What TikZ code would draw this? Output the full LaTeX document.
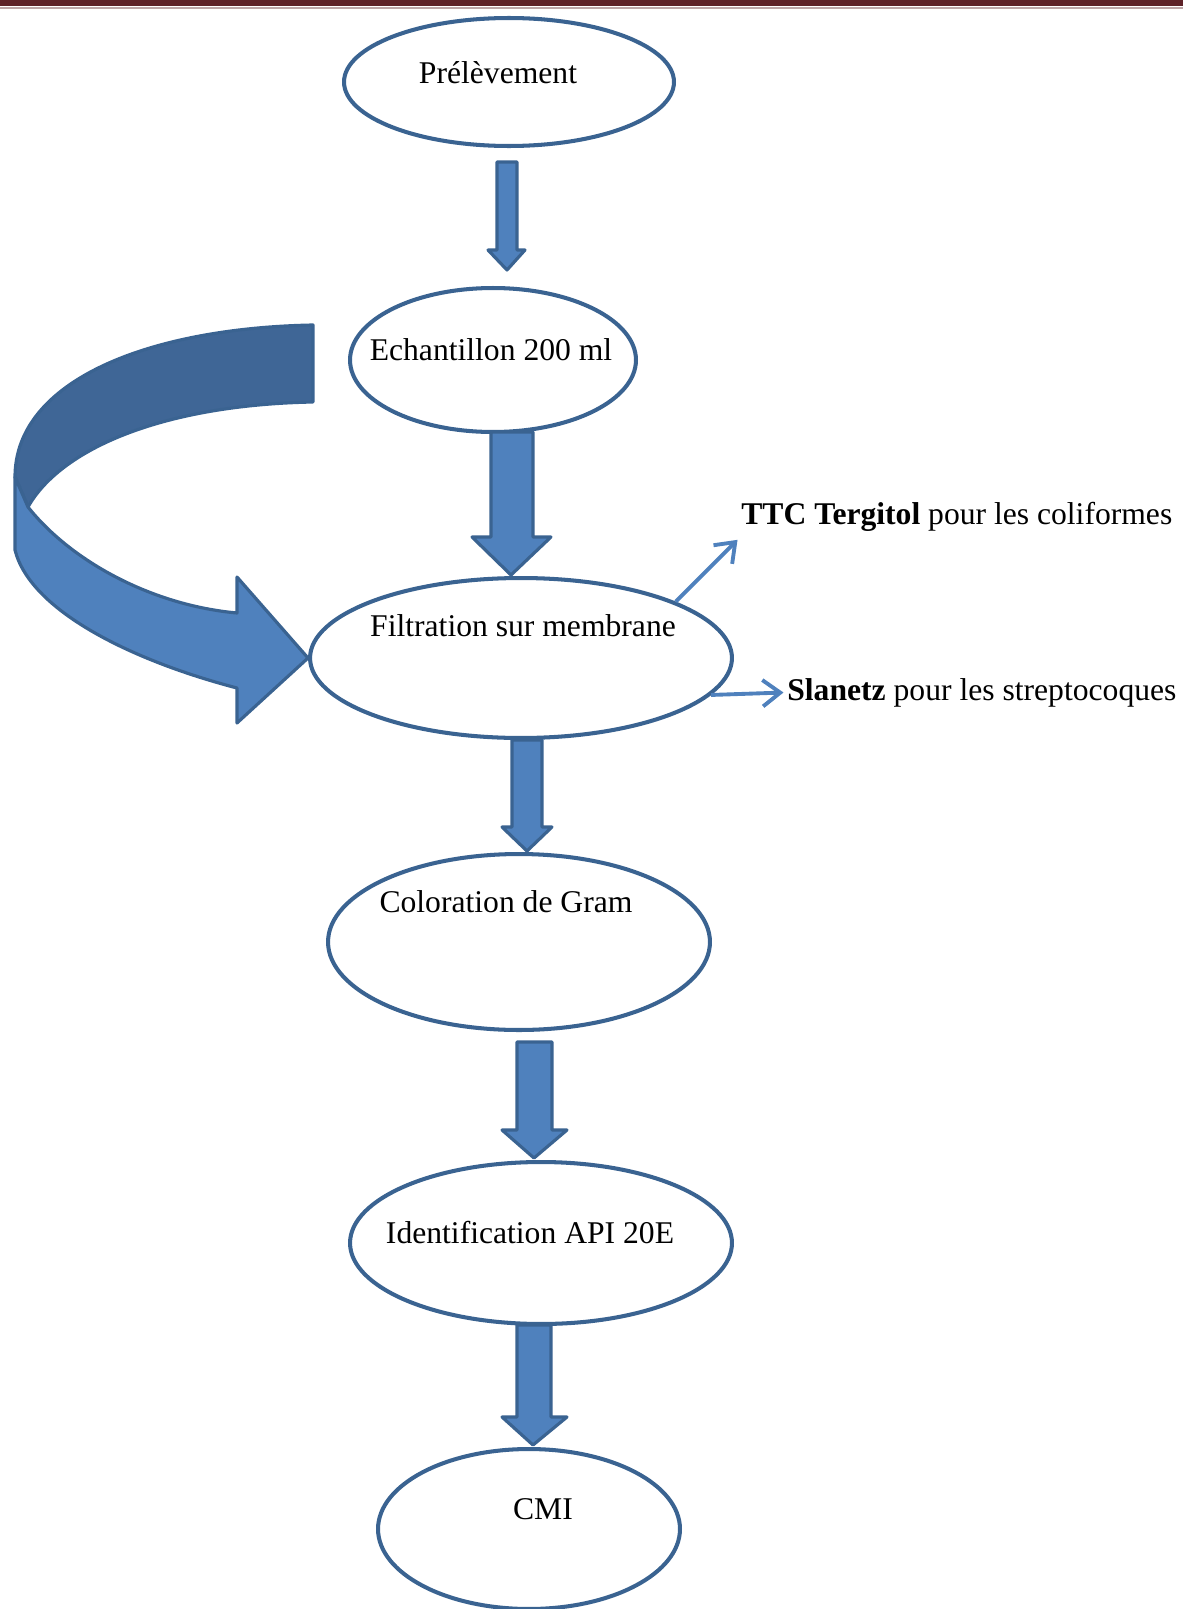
\documentclass[tikz,border=0pt]{standalone}
\usepackage{fontspec}
\setmainfont{Liberation Serif}
\usetikzlibrary{shapes.geometric,arrows.meta,calc}

\definecolor{barred}{HTML}{5E2228}
\definecolor{edgeblue}{HTML}{3A6391}
\definecolor{fillblue}{HTML}{4F81BD}
\definecolor{darkblue}{HTML}{3F6696}

\tikzset{
  stage/.style={ellipse, draw=edgeblue, line width=2.3pt, inner sep=0pt},
  lbl/.style={anchor=base, inner sep=0pt, font=\fontsize{18}{21}\selectfont},
  fat/.style={fill=fillblue, draw=edgeblue, line width=1.8pt, line join=round},
  thinarrow/.style={draw=fillblue, line width=2.2pt, shorten >=2pt,
    -{Straight Barb[length=10pt,width=15pt]}}
}

\begin{document}
\begin{tikzpicture}[x=0.02cm, y=-0.02cm]
  \useasboundingbox (0,0) rectangle (1183,1609);
  % page rule
  \fill[barred] (0,0) rectangle (1183,6);
  \draw[barred!40, line width=0.6pt] (0,8) -- (1183,8);

  % stages
  \node[stage, minimum width=6.6cm, minimum height=2.56cm] (prel) at (509,82) {};
  \node[stage, minimum width=5.72cm, minimum height=2.88cm] (ech) at (493,360) {};
  \node[stage, minimum width=8.44cm, minimum height=3.2cm] (filt) at (521,658) {};
  \node[stage, minimum width=7.64cm, minimum height=3.52cm] (col) at (519,942) {};
  \node[stage, minimum width=7.64cm, minimum height=3.24cm] (ident) at (541,1243) {};
  \node[stage, minimum width=6.04cm, minimum height=3.2cm] (cmi) at (529,1529) {};

  \node[lbl] (prel-t) at (498,83) {Prélèvement};
  \node[lbl] (ech-t) at (491,360) {Echantillon 200 ml};
  \node[lbl] (filt-t) at (523,636) {Filtration sur membrane};
  \node[lbl] (col-t) at (506,912) {Coloration de Gram};
  \node[lbl] (ident-t) at (530,1243) {Identification API 20E};
  \node[lbl] (cmi-t) at (543,1519) {CMI};

  \node[lbl, anchor=base west] (ttc) at (741,524) {\textbf{TTC Tergitol} pour les coliformes};
  \node[lbl, anchor=base west] (slanetz) at (787,700) {\textbf{Slanetz} pour les streptocoques};

  % block arrows
  \filldraw[fat] (497,162) -- (517,162) -- (517,250) -- (525,250) -- (507,270)
    -- (488,250) -- (497,250) -- cycle;
  \filldraw[fat] (491,432) -- (533,432) -- (533,537) -- (551,537) -- (511,575)
    -- (472,537) -- (491,537) -- cycle;
  \filldraw[fat] (512,740) -- (542,740) -- (542,827) -- (552,827) -- (527,851)
    -- (502,827) -- (512,827) -- cycle;
  \filldraw[fat] (517,1042) -- (552,1042) -- (552,1130) -- (567,1130) -- (534,1158)
    -- (502,1130) -- (517,1130) -- cycle;
  \filldraw[fat] (517,1325) -- (551,1325) -- (551,1417) -- (567,1417) -- (533,1445)
    -- (502,1417) -- (517,1417) -- cycle;

  % curved arrow into the filtration
  \filldraw[fat, fill=darkblue] (313,325) .. controls (150,328) and (15,380) .. (15,477)
    -- (28,507) .. controls (60,450) and (160,405) .. (313,402) -- cycle;
  \filldraw[fat] (15,477) -- (28,507) .. controls (70,560) and (150,605) .. (237,613)
    -- (237,577) -- (filt.west) -- (237,723) -- (237,688)
    .. controls (130,660) and (30,610) .. (15,550) -- cycle;

  % media
  \draw[thinarrow] (filt.20) -- ($(ttc.south west)+(-1,6)$);
  \draw[thinarrow] (filt.-11) -- (slanetz.west);
\end{tikzpicture}
\end{document}
